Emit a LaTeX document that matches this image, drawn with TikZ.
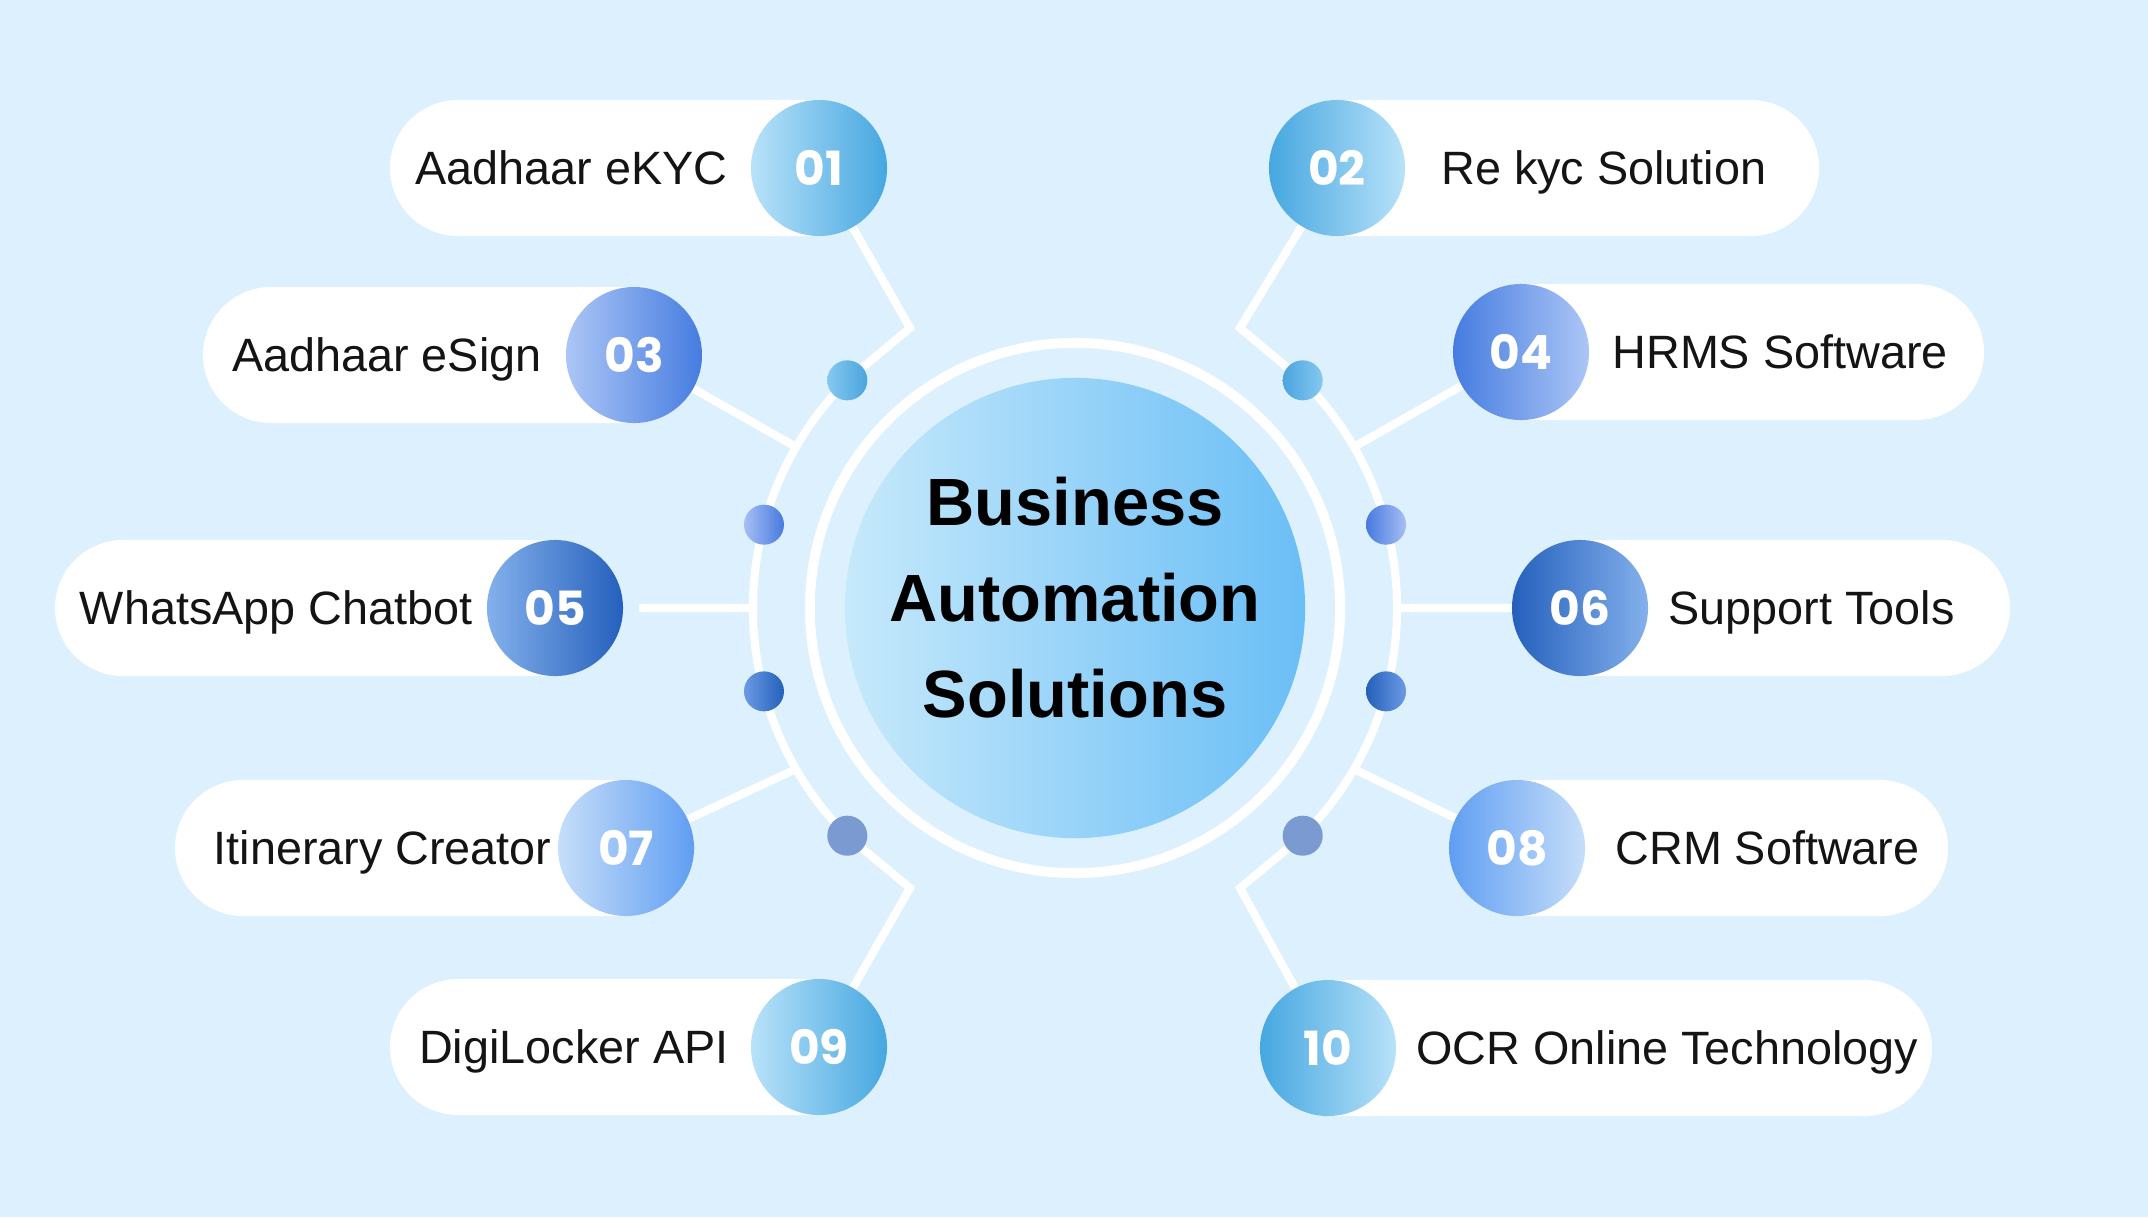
\documentclass[tikz,border=0pt]{standalone}
\usepackage{fontspec}
\setmainfont{Liberation Sans}
\newfontfamily\numfont{Poppins}
\usepackage{tikz}
\usetikzlibrary{
	positioning,
	backgrounds
}
\definecolor{PaleSky}{RGB}{221,240,253}
\definecolor{SkyLight}{RGB}{184,226,249}
\definecolor{SkyDeep}{RGB}{70,167,224}
\definecolor{RoyalLight}{RGB}{172,198,246}
\definecolor{RoyalDeep}{RGB}{70,124,224}
\definecolor{NavyLight}{RGB}{132,176,236}
\definecolor{NavyDeep}{RGB}{36,96,188}
\definecolor{CornLight}{RGB}{198,222,249}
\definecolor{CornDeep}{RGB}{96,158,242}
\definecolor{HubLight}{RGB}{198,233,251}
\definecolor{HubDeep}{RGB}{106,190,246}
\definecolor{DotSkyLight}{RGB}{132,200,240}
\definecolor{DotSkyDeep}{RGB}{76,164,222}
\definecolor{DotRoyalLight}{RGB}{166,190,245}
\definecolor{DotRoyalDeep}{RGB}{72,122,222}
\definecolor{DotNavyLight}{RGB}{108,154,228}
\definecolor{DotNavyDeep}{RGB}{36,96,186}
\definecolor{SlateDot}{RGB}{124,154,210}

\tikzset{
	wire/.style={white, line width=2.3pt},
	ring/.style={white, line width=2.8pt},
	pill/.style={white, rounded corners=0.68cm},
	badge/.style={circle, minimum size=1.36cm, inner sep=0pt, text=white, font=\numfont\bfseries\fontsize{13.4}{15}\selectfont},
	dot/.style={circle, minimum size=0.4cm, inner sep=0pt},
	lbl/.style={inner sep=0pt, text=black!92, text height=9.5pt, text depth=0pt, font=\fontsize{13.3}{15}\selectfont},
	hub/.style={circle, minimum size=4.6cm, inner sep=0pt, left color=HubLight, right color=HubDeep},
	title/.style={align=center, inner sep=0pt, text=black, font=\bfseries\fontsize{19}{27.3}\selectfont}
}

\begin{document}
\begin{tikzpicture}[x=0.01cm, y=0.01cm]
	\useasboundingbox (0,0) rectangle (2148,-1217);
	\coordinate (C) at (1075,-608);
	\node[hub] (hub) at (C) {};
	\node[title] (ttl) at ([yshift=0.1cm]hub.center) {Business\\Automation\\Solutions};

	\node[badge, left color=SkyLight, right color=SkyDeep] (b01) at (819,-168) {01};
	\node[badge, left color=SkyDeep, right color=SkyLight] (b02) at (1337,-168) {02};
	\node[badge, left color=RoyalLight, right color=RoyalDeep] (b03) at (634,-355) {03};
	\node[badge, left color=RoyalDeep, right color=RoyalLight] (b04) at (1521,-352) {04};
	\node[badge, left color=NavyLight, right color=NavyDeep] (b05) at (555,-608) {05};
	\node[badge, left color=NavyDeep, right color=NavyLight] (b06) at (1580,-608) {06};
	\node[badge, left color=CornLight, right color=CornDeep] (b07) at (626,-848) {07};
	\node[badge, left color=CornDeep, right color=CornLight] (b08) at (1517,-848) {08};
	\node[badge, left color=SkyLight, right color=SkyDeep] (b09) at (819,-1047) {09};
	\node[badge, left color=SkyDeep, right color=SkyLight] (b10) at (1328,-1048) {10};

	\node[lbl, left=0.22cm of b01] (t01) {Aadhaar eKYC};
	\node[lbl, right=0.35cm of b02] (t02) {Re kyc Solution};
	\node[lbl, left=0.23cm of b03] (t03) {Aadhaar eSign};
	\node[lbl, right=0.22cm of b04] (t04) {HRMS Software};
	\node[lbl, left=0.13cm of b05] (t05) {WhatsApp Chatbot};
	\node[lbl, right=0.19cm of b06] (t06) {Support Tools};
	\node[lbl, left=0.05cm of b07] (t07) {Itinerary Creator};
	\node[lbl, right=0.29cm of b08] (t08) {CRM Software};
	\node[lbl, left=0.21cm of b09] (t09) {DigiLocker API};
	\node[lbl, right=0.19cm of b10] (t10) {OCR Online Technology};

	\node[dot, left color=DotSkyLight, right color=DotSkyDeep] (d135) at ([shift={(135:322)}]C) {};
	\node[dot, left color=DotSkyDeep, right color=DotSkyLight] (d45) at ([shift={(45:322)}]C) {};
	\node[dot, left color=DotRoyalLight, right color=DotRoyalDeep] (d165) at ([shift={(165:322)}]C) {};
	\node[dot, left color=DotRoyalDeep, right color=DotRoyalLight] (d15) at ([shift={(15:322)}]C) {};
	\node[dot, left color=DotNavyLight, right color=DotNavyDeep] (d195) at ([shift={(195:322)}]C) {};
	\node[dot, left color=DotNavyDeep, right color=DotNavyLight] (d345) at ([shift={(-15:322)}]C) {};
	\node[dot, fill=SlateDot] (d225) at ([shift={(225:322)}]C) {};
	\node[dot, fill=SlateDot] (d315) at ([shift={(-45:322)}]C) {};

	\coordinate (e01) at (910,-328);
	\coordinate (e09) at (910,-888);
	\coordinate (e02) at (1240,-328);
	\coordinate (e10) at (1240,-888);
	\coordinate (j03) at ([shift={(150:322)}]C);
	\coordinate (j05) at ([shift={(180:322)}]C);
	\coordinate (j07) at ([shift={(210:322)}]C);
	\coordinate (j04) at ([shift={(30:322)}]C);
	\coordinate (j06) at ([shift={(0:322)}]C);
	\coordinate (j08) at ([shift={(-30:322)}]C);

	\begin{scope}[on background layer]
		\fill[PaleSky] (0,0) rectangle (2148,-1217);
		\draw[ring] (hub.center) circle (2.65cm);
		\draw[wire] (b01.center) -- (e01) -- (d135.center) arc[start angle=135, end angle=225, radius=3.22cm] -- (e09) -- (b09.center);
		\draw[wire] (b02.center) -- (e02) -- (d45.center) arc[start angle=45, end angle=-45, radius=3.22cm] -- (e10) -- (b10.center);
		\draw[wire] (b03.center) -- (j03);
		\draw[wire, shorten <=0.15cm] (b05.east) -- (j05);
		\draw[wire] (b07.center) -- (j07);
		\draw[wire] (b04.center) -- (j04);
		\draw[wire] (b06.center) -- (j06);
		\draw[wire] (b08.center) -- (j08);
		\fill[pill] (390,-100) rectangle (887,-236);
		\fill[pill] (203,-287) rectangle (702,-423);
		\fill[pill] (55,-540) rectangle (623,-676);
		\fill[pill] (175,-780) rectangle (694,-916);
		\fill[pill] (390,-979) rectangle (887,-1115);
		\fill[pill] (1269,-100) rectangle (1819,-236);
		\fill[pill] (1453,-284) rectangle (1984,-420);
		\fill[pill] (1512,-540) rectangle (2010,-676);
		\fill[pill] (1449,-780) rectangle (1948,-916);
		\fill[pill] (1260,-980) rectangle (1932,-1116);
	\end{scope}
\end{tikzpicture}
\end{document}
